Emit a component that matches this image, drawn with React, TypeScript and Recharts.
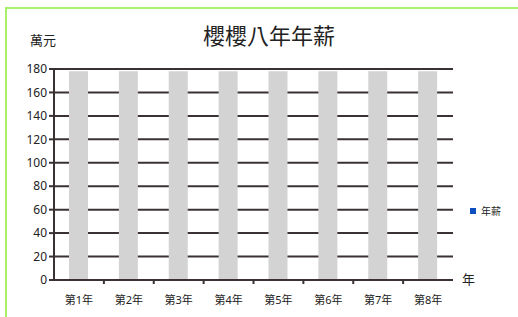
import React from "react";
import { Bar, BarChart, CartesianGrid, XAxis, YAxis } from "recharts";

const years = ["第1年", "第2年", "第3年", "第4年", "第5年", "第6年", "第7年", "第8年"];
const salary = [178, 178, 178, 178, 178, 178, 178, 178];
const yTicks = [0, 20, 40, 60, 80, 100, 120, 140, 160, 180];

const data = years.map((name, i) => ({ name, 年薪: salary[i] }));

const FONT = '"Noto Sans", "Noto Sans CJK TC", sans-serif';
const INK = "#3a3232";
const PLOT_LEFT = 54;
const PLOT_RIGHT = 453;
const band = (PLOT_RIGHT - PLOT_LEFT) / years.length;

function YearTick(props: any) {
    const { x, y, payload, index } = props;
    return (
        <g>
            {index > 0 && (
                <line x1={x - band / 2} x2={x - band / 2} y1={y} y2={y + 4} stroke={INK} strokeWidth={2} />
            )}
            <text x={x} y={y + 24} textAnchor="middle" fontSize={11} fill="#222" fontFamily={FONT}>
                {payload.value}
            </text>
        </g>
    );
}

export default function App() {
    return (
        <div style={{ position: "absolute", left: 0, top: 0, width: 518, height: 317, background: "#fff", overflow: "hidden" }}>
            <div
                style={{
                    position: "absolute",
                    left: 5,
                    top: 7,
                    width: 520,
                    height: 320,
                    borderTop: "2px solid #a8f06a",
                    borderLeft: "2px solid #a8f06a",
                }}
            />
            <div
                style={{
                    position: "absolute",
                    left: 0,
                    width: 538,
                    top: 20,
                    textAlign: "center",
                    fontFamily: FONT,
                    fontSize: 22,
                    color: "#222",
                    lineHeight: "30px",
                }}
            >
                櫻櫻八年年薪
            </div>
            <div style={{ position: "absolute", left: 30, top: 32, fontFamily: FONT, fontSize: 13, color: "#222", lineHeight: "16px" }}>
                萬元
            </div>
            <div style={{ position: "absolute", left: 462, top: 271, fontFamily: FONT, fontSize: 13, color: "#222", lineHeight: "16px" }}>
                年
            </div>
            <div
                style={{
                    position: "absolute",
                    left: 470,
                    top: 204,
                    display: "flex",
                    alignItems: "center",
                    fontFamily: FONT,
                    fontSize: 10,
                    color: "#222",
                    lineHeight: "14px",
                }}
            >
                <span style={{ width: 6, height: 6, background: "#0d4fc0", marginRight: 5, display: "inline-block" }} />
                年薪
            </div>
            <BarChart
                width={518}
                height={317}
                data={data}
                margin={{ top: 69, right: 518 - PLOT_RIGHT, left: 0, bottom: 0 }}
                barSize={19}
                style={{ position: "absolute", left: 0, top: 0 }}
            >
                <CartesianGrid vertical={false} horizontal stroke={INK} strokeWidth={2} />
                <XAxis
                    dataKey="name"
                    height={37}
                    axisLine={{ stroke: INK, strokeWidth: 2 }}
                    tickLine={false}
                    tickSize={0}
                    tickMargin={0}
                    tick={<YearTick />}
                    interval={0}
                />
                <YAxis
                    width={PLOT_LEFT}
                    domain={[0, 180]}
                    ticks={yTicks}
                    interval={0}
                    axisLine={{ stroke: INK, strokeWidth: 2 }}
                    tickLine={{ stroke: INK, strokeWidth: 2 }}
                    tickSize={5}
                    tickMargin={2}
                    tick={{ fontSize: 12, fill: "#222", fontFamily: FONT }}
                />
                <Bar dataKey="年薪" fill="#d3d3d3" isAnimationActive={false} />
            </BarChart>
        </div>
    );
}
